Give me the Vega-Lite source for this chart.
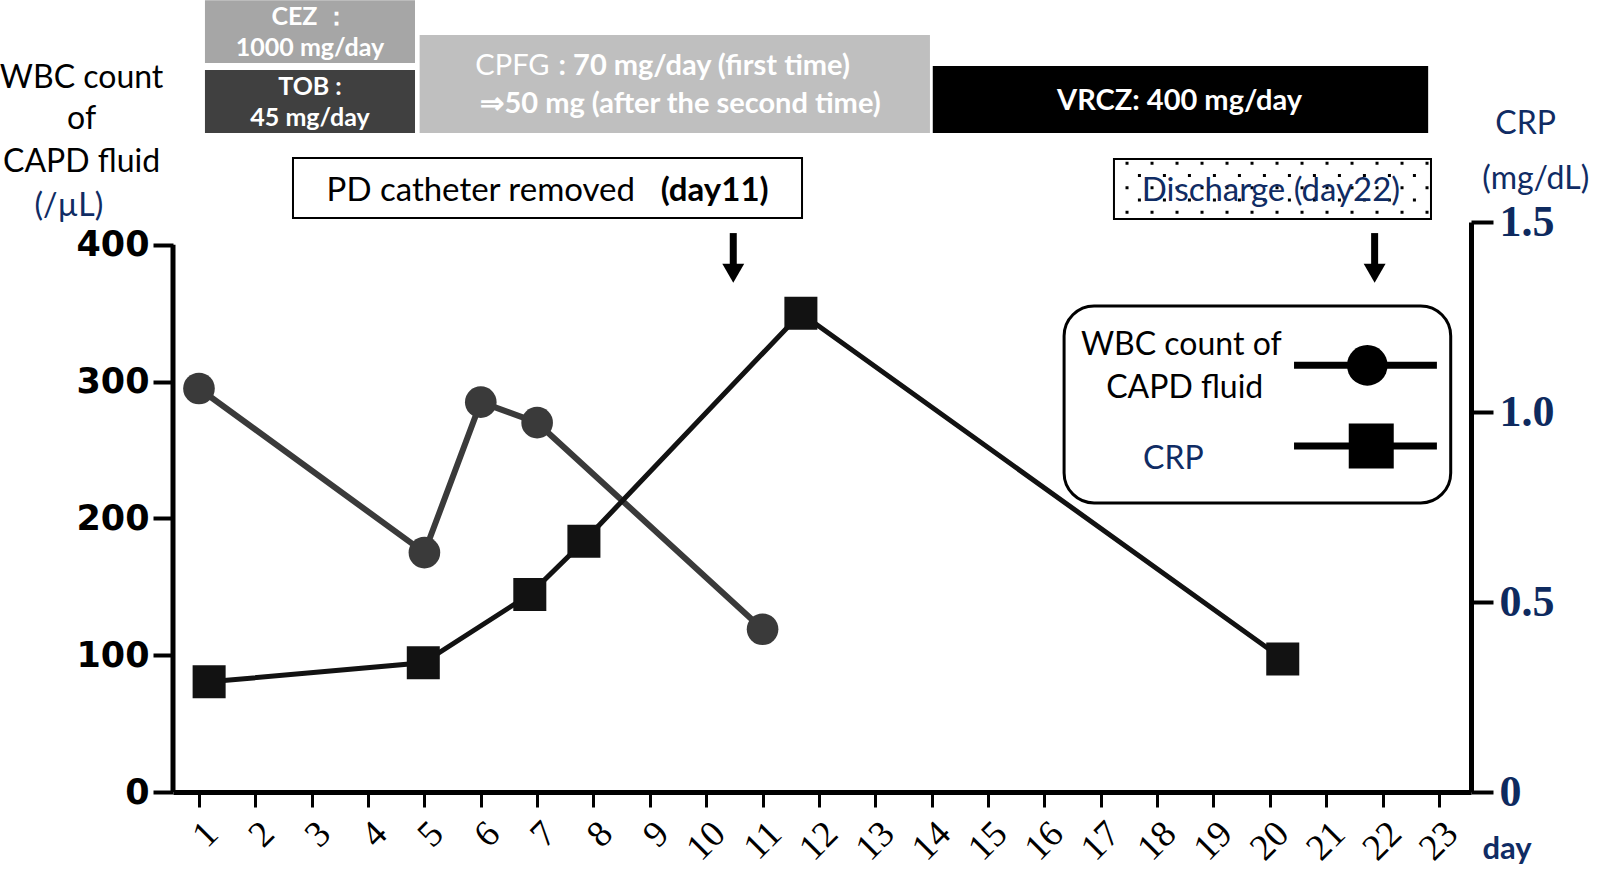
{
  "$schema": "https://vega.github.io/schema/vega-lite/v6.json",
  "width": 1298,
  "height": 570,
  "autosize": {"type": "none"},
  "padding": {"left": 173, "top": 222, "right": 129, "bottom": 82},
  "background": "white",
  "config": {"view": {"stroke": null}},
  "resolve": {"scale": {"y": "independent"}, "axis": {"y": "independent"}},
  "layer": [
    {
      "layer": [
        {
          "data": {"values": [
            {"day": 1, "wbc": 295},
            {"day": 5, "wbc": 175},
            {"day": 6, "wbc": 285},
            {"day": 7, "wbc": 270},
            {"day": 11, "wbc": 119}
          ]},
          "mark": {"type": "line", "color": "#3a3a3a", "strokeWidth": 6},
          "encoding": {
            "x": {"field": "day", "type": "quantitative", "scale": {"domain": [0.539, 23.57], "nice": false},
              "axis": {"values": [1,2,3,4,5,6,7,8,9,10,11,12,13,14,15,16,17,18,19,20,21,22,23], "format": "d", "title": null, "grid": false, "domainColor": "black", "domainWidth": 5, "tickColor": "black", "tickWidth": 3, "tickSize": 15, "labelAngle": -45, "labelFont": "Liberation Serif", "labelFontSize": 37, "labelColor": "black", "labelPadding": 8, "labelOverlap": false, "labelFlush": false}},
            "y": {"field": "wbc", "type": "quantitative", "scale": {"domain": [0, 416.7], "nice": false},
              "axis": {"values": [0, 100, 200, 300, 400], "title": null, "grid": false, "domain": false, "tickColor": "black", "tickWidth": 4, "tickSize": 20, "labelFont": "DejaVu Sans", "labelFontWeight": "bold", "labelFontSize": 35, "labelColor": "black", "labelPadding": 4, "labelFlush": false}}
          }
        },
        {
          "data": {"values": [
            {"drug": "CEZ", "d1": 1.106, "d2": 4.833, "v1": 532.9, "v2": 578.9},
            {"drug": "TOB", "d1": 1.106, "d2": 4.833, "v1": 481.7, "v2": 527.8},
            {"drug": "CPFG", "d1": 4.915, "d2": 13.97, "v1": 481.7, "v2": 553.4},
            {"drug": "VRCZ", "d1": 14.02, "d2": 22.81, "v1": 481.7, "v2": 530.7}
          ]},
          "mark": {"type": "rect"},
          "encoding": {
            "x": {"field": "d1", "type": "quantitative"},
            "x2": {"field": "d2"},
            "y": {"field": "v1", "type": "quantitative"},
            "y2": {"field": "v2"},
            "color": {"field": "drug", "type": "nominal", "scale": {"domain": ["CEZ", "TOB", "CPFG", "VRCZ"], "range": ["#a6a6a6", "#404040", "#bfbfbf", "#000000"]}, "legend": null}
          }
        },
        {
          "data": {"values": [
            {"t": "CEZ ：", "d": 2.97, "v": 566.3},
            {"t": "1000 mg/day", "d": 2.97, "v": 543.9},
            {"t": "TOB :", "d": 2.97, "v": 515.6},
            {"t": "45 mg/day", "d": 2.97, "v": 492.4}
          ]},
          "mark": {"type": "text", "font": "Lato", "fontWeight": "bold", "fontSize": 25, "color": "white", "align": "center", "baseline": "middle"},
          "encoding": {
            "x": {"field": "d", "type": "quantitative"},
            "y": {"field": "v", "type": "quantitative"},
            "text": {"field": "t"}
          }
        },
        {
          "data": {"values": [
            {"t": "⇒50 mg (after the second time)", "d": 9.545, "v": 502.9},
            {"t": "VRCZ: 400 mg/day", "d": 18.4, "v": 505.1}
          ]},
          "mark": {"type": "text", "font": "Lato", "fontWeight": "bold", "fontSize": 29, "color": "white", "align": "center", "baseline": "middle"},
          "encoding": {
            "x": {"field": "d", "type": "quantitative"},
            "y": {"field": "v", "type": "quantitative"},
            "text": {"field": "t"}
          }
        },
        {
          "data": {"values": [{"t": ": 70 mg/day (first time)", "d": 7.38, "v": 530.5}]},
          "mark": {"type": "text", "font": "Lato", "fontWeight": "bold", "fontSize": 29, "color": "white", "align": "left", "baseline": "middle"},
          "encoding": {
            "x": {"field": "d", "type": "quantitative"},
            "y": {"field": "v", "type": "quantitative"},
            "text": {"field": "t"}
          }
        },
        {
          "data": {"values": [{"t": "CPFG", "d": 7.22, "v": 530.5}]},
          "mark": {"type": "text", "font": "Lato", "fontSize": 29, "color": "white", "align": "right", "baseline": "middle"},
          "encoding": {
            "x": {"field": "d", "type": "quantitative"},
            "y": {"field": "v", "type": "quantitative"},
            "text": {"field": "t"}
          }
        },
        {
          "data": {"values": [
            {"d1": 2.668, "d2": 11.70, "v1": 419.6, "v2": 463.5},
            {"d1": 17.235, "d2": 22.86, "v1": 418.9, "v2": 462.8}
          ]},
          "mark": {"type": "rect", "fill": "white", "stroke": "black", "strokeWidth": 2},
          "encoding": {
            "x": {"field": "d1", "type": "quantitative"},
            "x2": {"field": "d2"},
            "y": {"field": "v1", "type": "quantitative"},
            "y2": {"field": "v2"}
          }
        },
        {
          "data": {"values": [
            {"d1": 17.44, "d2": 22.84, "v": 459.7},
            {"d1": 17.66, "d2": 22.84, "v": 450.7},
            {"d1": 17.44, "d2": 22.84, "v": 441.8},
            {"d1": 17.66, "d2": 22.84, "v": 432.8},
            {"d1": 17.44, "d2": 22.84, "v": 423.8}
          ]},
          "mark": {"type": "rule", "color": "black", "strokeWidth": 3, "strokeDash": [3, 22], "strokeCap": "butt"},
          "encoding": {
            "x": {"field": "d1", "type": "quantitative"},
            "x2": {"field": "d2"},
            "y": {"field": "v", "type": "quantitative"}
          }
        },
        {
          "data": {"values": [{"t": "PD catheter removed", "d": 6.0, "v": 439.3}]},
          "mark": {"type": "text", "font": "Lato", "fontSize": 33, "color": "black", "align": "center", "baseline": "middle"},
          "encoding": {
            "x": {"field": "d", "type": "quantitative"},
            "y": {"field": "v", "type": "quantitative"},
            "text": {"field": "t"}
          }
        },
        {
          "data": {"values": [{"t": "(day11)", "d": 10.15, "v": 439.3}]},
          "mark": {"type": "text", "font": "Lato", "fontWeight": "bold", "fontSize": 33, "color": "black", "align": "center", "baseline": "middle"},
          "encoding": {
            "x": {"field": "d", "type": "quantitative"},
            "y": {"field": "v", "type": "quantitative"},
            "text": {"field": "t"}
          }
        },
        {
          "data": {"values": [{"t": "Discharge (day22)", "d": 20.02, "v": 439.5}]},
          "mark": {"type": "text", "font": "Lato", "fontSize": 33, "color": "#102c64", "align": "center", "baseline": "middle"},
          "encoding": {
            "x": {"field": "d", "type": "quantitative"},
            "y": {"field": "v", "type": "quantitative"},
            "text": {"field": "t"}
          }
        },
        {
          "data": {"values": [
            {"d": 10.48, "v1": 384.5, "v2": 408.6},
            {"d": 21.86, "v1": 384.5, "v2": 408.6}
          ]},
          "mark": {"type": "rule", "color": "black", "strokeWidth": 7, "strokeCap": "butt"},
          "encoding": {
            "x": {"field": "d", "type": "quantitative"},
            "y": {"field": "v1", "type": "quantitative"},
            "y2": {"field": "v2"}
          }
        },
        {
          "data": {"values": [
            {"d": 10.48, "v": 379.2},
            {"d": 21.86, "v": 379.2}
          ]},
          "mark": {"type": "point", "shape": "triangle-down", "filled": true, "color": "black", "size": 480, "opacity": 1},
          "encoding": {
            "x": {"field": "d", "type": "quantitative"},
            "y": {"field": "v", "type": "quantitative"}
          }
        },
        {
          "data": {"values": [{"d1": 16.35, "d2": 23.21, "v1": 211.3, "v2": 355.3}]},
          "mark": {"type": "rect", "fill": "white", "stroke": "black", "strokeWidth": 3, "cornerRadius": 30},
          "encoding": {
            "x": {"field": "d1", "type": "quantitative"},
            "x2": {"field": "d2"},
            "y": {"field": "v1", "type": "quantitative"},
            "y2": {"field": "v2"}
          }
        },
        {
          "data": {"values": [
            {"t": "WBC count of", "d": 18.43, "v": 326.8},
            {"t": "CAPD fluid", "d": 18.49, "v": 295.5}
          ]},
          "mark": {"type": "text", "font": "Lato", "fontSize": 32, "color": "black", "align": "center", "baseline": "middle"},
          "encoding": {
            "x": {"field": "d", "type": "quantitative"},
            "y": {"field": "v", "type": "quantitative"},
            "text": {"field": "t"}
          }
        },
        {
          "data": {"values": [{"t": "CRP", "d": 18.29, "v": 243.3}]},
          "mark": {"type": "text", "font": "Lato", "fontSize": 32, "color": "#102c64", "align": "center", "baseline": "middle"},
          "encoding": {
            "x": {"field": "d", "type": "quantitative"},
            "y": {"field": "v", "type": "quantitative"},
            "text": {"field": "t"}
          }
        },
        {
          "data": {"values": [
            {"d1": 20.43, "d2": 22.965, "v": 311.9},
            {"d1": 20.43, "d2": 22.965, "v": 252.9}
          ]},
          "mark": {"type": "rule", "color": "black", "strokeWidth": 7, "strokeCap": "butt"},
          "encoding": {
            "x": {"field": "d1", "type": "quantitative"},
            "x2": {"field": "d2"},
            "y": {"field": "v", "type": "quantitative"}
          }
        },
        {
          "data": {"values": [{"d": 21.73, "v": 311.9}]},
          "mark": {"type": "point", "shape": "circle", "filled": true, "color": "black", "size": 1650, "opacity": 1},
          "encoding": {
            "x": {"field": "d", "type": "quantitative"},
            "y": {"field": "v", "type": "quantitative"}
          }
        },
        {
          "data": {"values": [{"d": 21.80, "v": 252.9}]},
          "mark": {"type": "point", "shape": "square", "filled": true, "color": "black", "size": 2025, "opacity": 1},
          "encoding": {
            "x": {"field": "d", "type": "quantitative"},
            "y": {"field": "v", "type": "quantitative"}
          }
        },
        {
          "data": {"values": [
            {"t": "WBC count", "d": -1.083, "v": 522.2},
            {"t": "of", "d": -1.083, "v": 491.7},
            {"t": "CAPD fluid", "d": -1.083, "v": 460.4}
          ]},
          "mark": {"type": "text", "font": "Lato", "fontSize": 32, "color": "black", "align": "center", "baseline": "middle"},
          "encoding": {
            "x": {"field": "d", "type": "quantitative"},
            "y": {"field": "v", "type": "quantitative"},
            "text": {"field": "t"}
          }
        },
        {
          "data": {"values": [
            {"t": "(/µL)", "d": -1.308, "v": 428.3},
            {"t": "CRP", "d": 24.54, "v": 488.0},
            {"t": "(mg/dL)", "d": 24.72, "v": 448.4}
          ]},
          "mark": {"type": "text", "font": "Lato", "fontSize": 32, "color": "#102c64", "align": "center", "baseline": "middle"},
          "encoding": {
            "x": {"field": "d", "type": "quantitative"},
            "y": {"field": "v", "type": "quantitative"},
            "text": {"field": "t"}
          }
        },
        {
          "data": {"values": [{"t": "day", "d": 24.21, "v": -42.4}]},
          "mark": {"type": "text", "font": "Lato", "fontWeight": "bold", "fontSize": 31, "color": "#102c64", "align": "center", "baseline": "middle"},
          "encoding": {
            "x": {"field": "d", "type": "quantitative"},
            "y": {"field": "v", "type": "quantitative"},
            "text": {"field": "t"}
          }
        },
        {
          "data": {"values": [{"d": 0.539, "v1": 0, "v2": 400}]},
          "mark": {"type": "rule", "color": "black", "strokeWidth": 5},
          "encoding": {
            "x": {"field": "d", "type": "quantitative"},
            "y": {"field": "v1", "type": "quantitative"},
            "y2": {"field": "v2"}
          }
        },
        {
          "data": {"values": [
            {"day": 1, "wbc": 295},
            {"day": 5, "wbc": 175},
            {"day": 6, "wbc": 285},
            {"day": 7, "wbc": 270},
            {"day": 11, "wbc": 119}
          ]},
          "mark": {"type": "point", "shape": "circle", "filled": true, "color": "#3a3a3a", "size": 1000, "opacity": 1},
          "encoding": {
            "x": {"field": "day", "type": "quantitative"},
            "y": {"field": "wbc", "type": "quantitative"}
          }
        }
      ]
    },
    {
      "layer": [
        {
          "data": {"values": [
            {"day": 1.18, "crp": 0.29},
            {"day": 4.98, "crp": 0.34},
            {"day": 6.87, "crp": 0.52},
            {"day": 7.83, "crp": 0.66},
            {"day": 11.68, "crp": 1.26},
            {"day": 20.23, "crp": 0.35}
          ]},
          "mark": {"type": "line", "color": "#121212", "strokeWidth": 5},
          "encoding": {
            "x": {"field": "day", "type": "quantitative"},
            "y": {"field": "crp", "type": "quantitative", "scale": {"domain": [0, 1.5], "nice": false},
              "axis": {"orient": "right", "values": [0, 0.5, 1, 1.5], "title": null, "grid": false, "domain": true, "domainColor": "black", "domainWidth": 5, "tickColor": "black", "tickWidth": 4, "tickSize": 22, "labelFont": "Liberation Serif", "labelFontWeight": "bold", "labelFontSize": 44, "labelColor": "#0e2a5f", "labelPadding": 6, "labelFlush": false, "labelExpr": "datum.value == 0 ? '0' : format(datum.value, '.1f')"}}
          }
        },
        {
          "data": {"values": [
            {"day": 1.18, "crp": 0.29},
            {"day": 4.98, "crp": 0.34},
            {"day": 6.87, "crp": 0.52},
            {"day": 7.83, "crp": 0.66},
            {"day": 11.68, "crp": 1.26},
            {"day": 20.23, "crp": 0.35}
          ]},
          "mark": {"type": "point", "shape": "square", "filled": true, "color": "#121212", "size": 1090, "opacity": 1},
          "encoding": {
            "x": {"field": "day", "type": "quantitative"},
            "y": {"field": "crp", "type": "quantitative"}
          }
        }
      ]
    }
  ]
}
